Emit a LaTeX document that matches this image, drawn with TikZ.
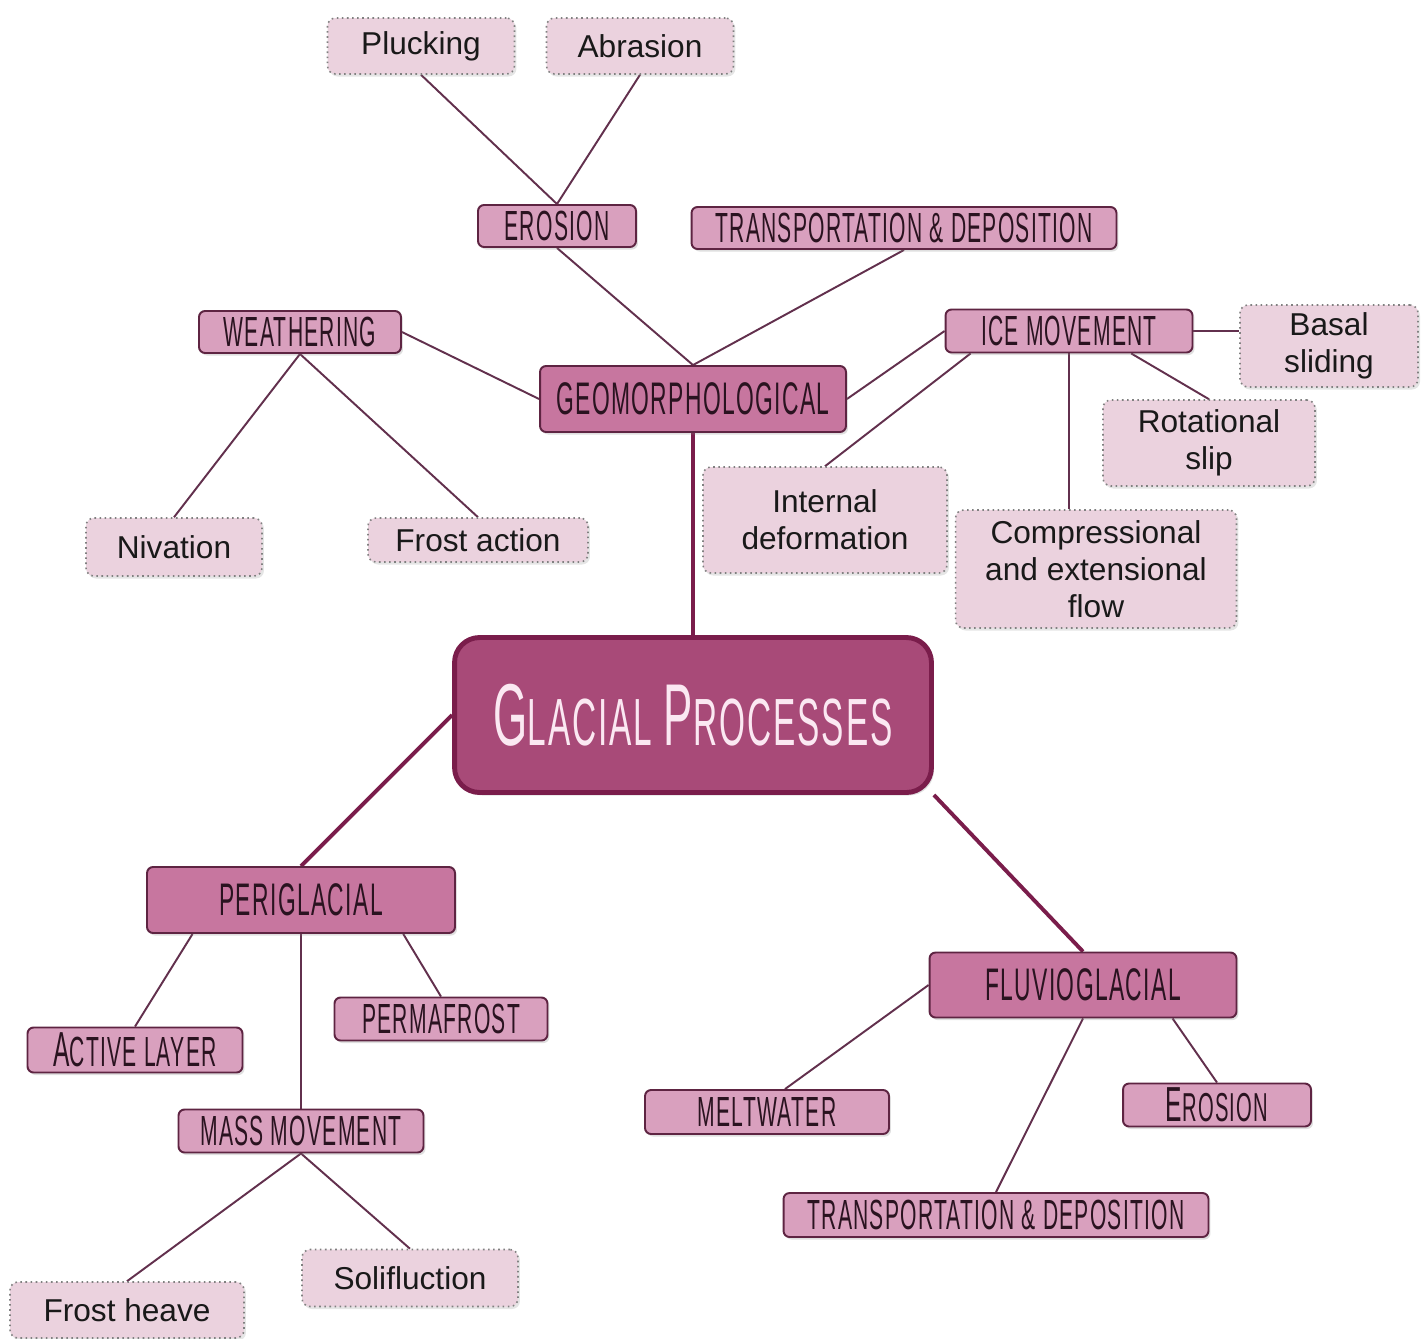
\documentclass[tikz,border=0pt]{standalone}
\usepackage{fontspec}
\setmainfont{Liberation Sans}
\newfontfamily\headfont[FakeStretch=0.5, LetterSpace=3]{Liberation Sans}
\usetikzlibrary{backgrounds,calc,shadows}

\definecolor{leafpink}{HTML}{EBD2DE}
\definecolor{midpink}{HTML}{D9A0BE}
\definecolor{toppink}{HTML}{C7769F}
\definecolor{mainpink}{HTML}{A84A78}
\definecolor{wine}{HTML}{5E2442}
\definecolor{mainborder}{HTML}{7A1D4B}
\definecolor{linkcol}{HTML}{62304D}
\definecolor{inkdark}{HTML}{2A1320}
\definecolor{paletext}{HTML}{FBE8F2}

\tikzset{
    leafbox/.style={draw=gray, dotted, line width=0.9pt, fill=leafpink,
        rounded corners=0.16cm, align=center, text=black!90, inner sep=0pt,
        font=\fontsize{18}{21}\selectfont,
        drop shadow={opacity=0.2, shadow xshift=0.04cm, shadow yshift=-0.05cm}},
    subbox/.style={draw=wine, line width=1.1pt, fill=midpink,
        rounded corners=0.12cm, text=inkdark, inner sep=0pt,
        font=\headfont\fontsize{24}{28}\selectfont,
        drop shadow={opacity=0.25, shadow xshift=0.04cm, shadow yshift=-0.05cm}},
    branchbox/.style={subbox, fill=toppink, font=\headfont\fontsize{26}{30}\selectfont},
    corebox/.style={draw=mainborder, line width=2.8pt, fill=mainpink,
        rounded corners=0.5cm, text=paletext, inner sep=0pt, font=\headfont,
        drop shadow={opacity=0.25, shadow xshift=0.05cm, shadow yshift=-0.06cm}},
    link/.style={draw=linkcol, line width=1.1pt},
    trunk/.style={draw=mainborder, line width=2.2pt},
}

\begin{document}
\begin{tikzpicture}[x=0.02cm, y=-0.02cm]

    % centre
    \node[corebox, minimum width=9.54cm, minimum height=3.1cm] (main) at (693,715)
        {\fontsize{50}{56}\selectfont G\fontsize{38}{44}\selectfont LACIAL
         \fontsize{50}{56}\selectfont P\fontsize{38}{44}\selectfont ROCESSES};

    % geomorphological branch
    \node[branchbox, minimum width=6.12cm, minimum height=1.32cm] (geo) at (693,399) {GEOMORPHOLOGICAL};
    \node[subbox, minimum width=3.16cm, minimum height=0.84cm] (eros) at (557,226) {EROSION};
    \node[subbox, minimum width=8.5cm, minimum height=0.84cm] (transA) at (904,228) {TRANSPORTATION \& DEPOSITION};
    \node[subbox, minimum width=4.04cm, minimum height=0.84cm] (weath) at (300,332) {WEATHERING};
    \node[subbox, minimum width=4.94cm, minimum height=0.86cm] (ice) at (1069,331) {ICE MOVEMENT};

    \node[leafbox, minimum width=3.74cm, minimum height=1.12cm] (pluck) at (421,46) {Plucking};
    \node[leafbox, minimum width=3.74cm, minimum height=1.12cm] (abr) at (640,46) {Abrasion};
    \node[leafbox, minimum width=3.52cm, minimum height=1.16cm] (niv) at (174,547) {Nivation};
    \node[leafbox, minimum width=4.4cm, minimum height=0.88cm] (frost) at (478,540) {Frost action};
    \node[leafbox, minimum width=4.88cm, minimum height=2.12cm] (intdef) at (825,520) {Internal\\deformation};
    \node[leafbox, minimum width=5.62cm, minimum height=2.36cm] (comp) at (1096,569) {Compressional\\and extensional\\flow};
    \node[leafbox, minimum width=3.56cm, minimum height=1.64cm] (basal) at (1329,346) {Basal\\sliding};
    \node[leafbox, minimum width=4.24cm, minimum height=1.72cm] (rot) at (1209,443) {Rotational\\slip};

    % periglacial branch
    \node[branchbox, minimum width=6.16cm, minimum height=1.32cm] (peri) at (301,900) {PERIGLACIAL};
    \node[subbox, minimum width=4.3cm, minimum height=0.9cm] (active) at (135,1050)
        {{\fontsize{28}{30}\selectfont A}CTIVE LAYER};
    \node[subbox, minimum width=4.26cm, minimum height=0.86cm] (perm) at (441,1019) {PERMAFROST};
    \node[subbox, minimum width=4.9cm, minimum height=0.86cm] (mass) at (301,1131) {MASS MOVEMENT};
    \node[leafbox, minimum width=4.68cm, minimum height=1.12cm] (heave) at (127,1310) {Frost heave};
    \node[leafbox, minimum width=4.32cm, minimum height=1.14cm] (solif) at (410,1278) {Solifluction};

    % fluvioglacial branch
    \node[branchbox, minimum width=6.14cm, minimum height=1.3cm] (fluvio) at (1083,985) {FLUVIOGLACIAL};
    \node[subbox, minimum width=4.88cm, minimum height=0.88cm] (melt) at (767,1112) {MELTWATER};
    \node[subbox, minimum width=3.76cm, minimum height=0.86cm] (erosB) at (1217,1105)
        {{\fontsize{28}{30}\selectfont E}\fontsize{23}{28}\selectfont ROSION};
    \node[subbox, minimum width=8.5cm, minimum height=0.88cm] (transB) at (996,1215) {TRANSPORTATION \& DEPOSITION};

    \begin{scope}[on background layer]
        \fill[white] (0,0) rectangle (1426,1327);

        \draw[link] (pluck.south) -- (eros.north);
        \draw[link] (abr.south) -- (eros.north);
        \draw[link] (eros.south) -- (geo.north);
        \draw[link] (transA.south) -- (geo.north);
        \draw[link] (weath.east) -- (geo.west);
        \draw[link] (weath.south) -- (niv.north);
        \draw[link] (weath.south) -- (frost.north);
        \draw[link] (geo.east) -- (ice.west);
        \draw[link] ($(ice.south west)+(26,0)$) -- (intdef.north);
        \draw[link] (ice.south) -- (ice.south |- comp.north);
        \draw[link] (ice.east) -- (ice.east -| basal.west);
        \draw[link] ($(ice.south)!0.5!(ice.south east)$) -- (rot.north);

        \draw[trunk] (geo.south) -- (main.north);
        \draw[trunk] (main.west) -- (peri.north);
        \draw[trunk] (main.south east) -- (fluvio.north);

        \draw[link] ($(peri.south west)!0.15!(peri.south east)$) -- (active.north);
        \draw[link] (peri.south) -- (mass.north);
        \draw[link] ($(peri.south west)!0.83!(peri.south east)$) -- (perm.north);
        \draw[link] (mass.south) -- (heave.north);
        \draw[link] (mass.south) -- (solif.north);

        \draw[link] (fluvio.west) -- ($(melt.north)+(18,0)$);
        \draw[link] (fluvio.south) -- (transB.north);
        \draw[link] ($(fluvio.south west)!0.79!(fluvio.south east)$) -- (erosB.north);
    \end{scope}

    \useasboundingbox (0,0) rectangle (1426,1327);

\end{tikzpicture}
\end{document}
